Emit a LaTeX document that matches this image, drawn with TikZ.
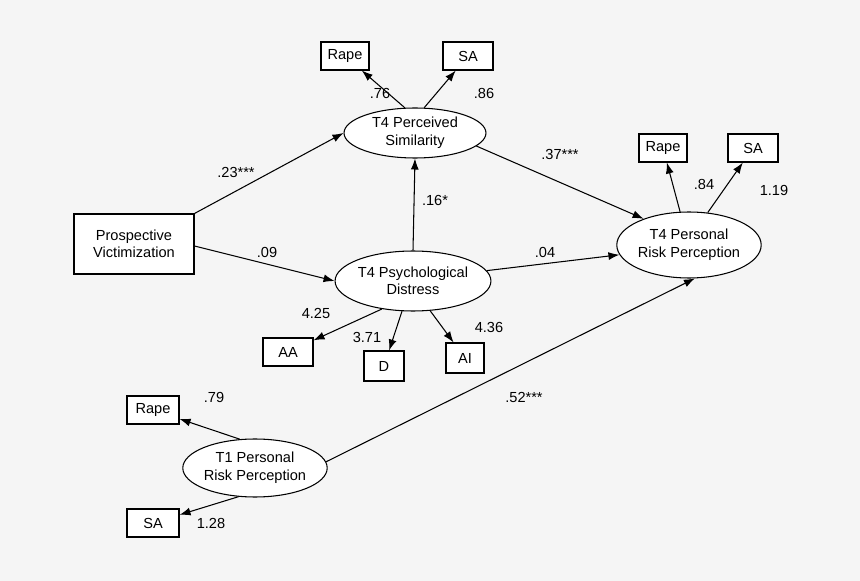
\documentclass[tikz,border=0pt]{standalone}
\usepackage{fontspec}
\setmainfont{Liberation Sans}
\usetikzlibrary{arrows.meta, shapes.geometric}
\tikzset{
  ind/.style={draw, rectangle, minimum height=0.56cm, inner sep=2pt, fill=white},
  lat/.style={draw, ellipse, align=center, inner sep=0pt, fill=white},
  path/.style={-{Latex[length=2.2mm,width=1.6mm]}, line width=0.6pt},
  lbl/.style={inner sep=1pt}
}
\begin{document}
\begin{tikzpicture}[x=0.02cm, y=-0.02cm, font=\fontsize{8.3}{10}\selectfont, line width=0.6pt]
\fill[black!4] (0,0) rectangle (860,581);
\useasboundingbox (0,0) rectangle (860,581);
% latent variables
\node[lat, minimum width=2.84cm, minimum height=1.0cm] (ps) at (415,133) {T4 Perceived\\Similarity};
\node[lat, minimum width=3.0cm, minimum height=1.2cm] (pd) at (413,281) {T4 Psychological\\Distress};
\node[lat, minimum width=2.64cm, minimum height=1.32cm] (prp4) at (689,245) {T4 Personal\\Risk Perception};
\node[lat, minimum width=2.68cm, minimum height=1.16cm] (prp1) at (255,468) {T1 Personal\\Risk Perception};
\node[draw, align=center, minimum width=2.4cm, minimum height=1.2cm, fill=white] (pv) at (134,244) {Prospective\\Victimization};
% indicators
\node[ind, minimum width=0.96cm] (psr) at (345,56) {Rape};
\node[ind, minimum width=1.0cm] (pss) at (468,56) {SA};
\node[ind, minimum width=0.96cm] (prr) at (663,148) {Rape};
\node[ind, minimum width=1.0cm] (prs) at (753,148) {SA};
\node[ind, minimum width=1.0cm] (aa) at (288,352) {AA};
\node[ind, minimum width=0.8cm, minimum height=0.6cm] (d) at (384,366) {D};
\node[ind, minimum width=0.76cm, minimum height=0.6cm] (ai) at (465,358) {AI};
\node[ind, minimum width=1.04cm] (t1r) at (153,410) {Rape};
\node[ind, minimum width=1.04cm] (t1s) at (153,523) {SA};
% structural paths
\draw[path] (pv.north east) -- (ps.west);
\draw[path] (pv.east) ++(0,2) -- (pd.west);
\draw[path] (pd.north) -- (ps.south);
\draw[path] (ps.-12) -- (prp4.150);
\draw[path] (pd.8) -- (prp4.188);
\draw[path] (prp1.5) -- (prp4.-80);
% loadings
\draw[path] (ps.112) -- (psr);
\draw[path] (ps.70) -- (pss);
\draw[path] (prp4.105) -- (prr);
\draw[path] (prp4.60) -- (prs);
\draw[path] (pd.222) -- (aa);
\draw[path] (pd.-110) -- (d);
\draw[path] (pd.-60) -- (ai);
\draw[path] (prp1.118) -- (t1r);
\draw[path] (prp1.-120) -- (t1s);
% coefficients
\node[lbl] at (236,172) {.23***};
\node[lbl] at (267,252) {.09};
\node[lbl] at (435,200) {.16*};
\node[lbl] at (560,154) {.37***};
\node[lbl] at (545,252) {.04};
\node[lbl] at (524,397) {.52***};
\node[lbl] at (380,93) {.76};
\node[lbl] at (484,93) {.86};
\node[lbl] at (704,184) {.84};
\node[lbl] at (774,190) {1.19};
\node[lbl] at (316,313) {4.25};
\node[lbl] at (367,337) {3.71};
\node[lbl] at (489,327) {4.36};
\node[lbl] at (214,397) {.79};
\node[lbl] at (211,523) {1.28};
\end{tikzpicture}
\end{document}
